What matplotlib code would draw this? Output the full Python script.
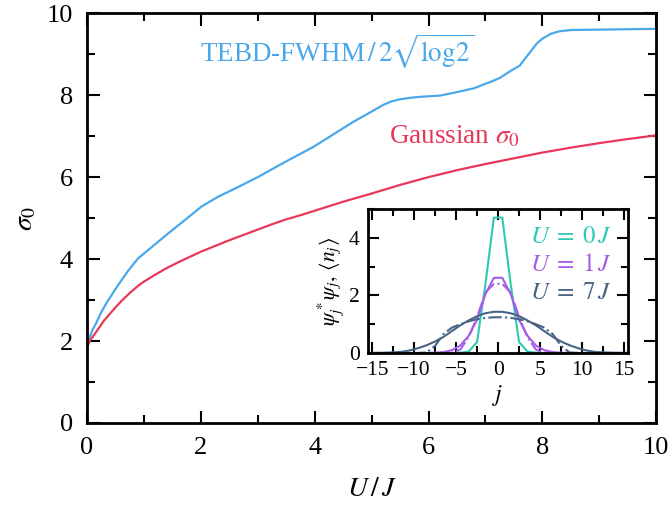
import numpy as np
import matplotlib
matplotlib.use("Agg")
import matplotlib.pyplot as plt
from matplotlib.ticker import MultipleLocator

plt.rcParams['font.family'] = ['Liberation Serif', 'DejaVu Serif']
plt.rcParams['mathtext.fontset'] = 'stix'

# sigma_0 versus U/J
u_tebd = [0, 0.05, 0.1, 0.16, 0.25, 0.34, 0.45, 0.55, 0.7, 0.8, 0.9, 1.1, 1.43,
          1.7, 2.01, 2.3, 2.6, 3.0, 3.48, 3.98, 4.3, 4.68, 5.0, 5.2, 5.35, 5.5,
          5.7, 5.85, 6.2, 6.45, 6.8, 7.0, 7.1, 7.25, 7.45, 7.6, 7.7, 7.8, 7.9,
          8.0, 8.15, 8.3, 8.5, 9.0, 10.0]
sigma_tebd = [1.85, 2.10, 2.28, 2.43, 2.70, 2.92, 3.16, 3.37, 3.67, 3.85, 4.02,
              4.25, 4.63, 4.93, 5.28, 5.52, 5.72, 6.00, 6.37, 6.74, 7.02, 7.35,
              7.60, 7.76, 7.85, 7.90, 7.94, 7.96, 7.99, 8.06, 8.17, 8.28, 8.33,
              8.42, 8.60, 8.72, 8.90, 9.08, 9.26, 9.38, 9.50, 9.56, 9.59, 9.60,
              9.62]

u_gauss = [0, 0.05, 0.1, 0.15, 0.2, 0.3, 0.4, 0.5, 0.6, 0.75, 0.9, 1.0, 1.2, 1.4,
           1.6, 1.8, 2.0, 2.25, 2.5, 2.75, 3.0, 3.25, 3.5, 3.75, 4.0, 4.5, 5.0,
           5.5, 6.0, 6.5, 7.0, 7.5, 8.0, 8.5, 9.0, 9.5, 10.0]
sigma_gauss = [1.85, 2.00, 2.10, 2.20, 2.30, 2.50, 2.66, 2.82, 2.97, 3.17, 3.35,
               3.45, 3.62, 3.78, 3.92, 4.05, 4.18, 4.32, 4.46, 4.59, 4.72, 4.85,
               4.97, 5.07, 5.18, 5.40, 5.60, 5.81, 6.00, 6.17, 6.32, 6.46, 6.60,
               6.72, 6.83, 6.93, 7.02]

# density profiles on the lattice (half-integer sites)
sites = np.arange(-15.5, 16.0, 1.0)
n_u0 = [0, 0, 0, 0, 0, 0, 0, 0, 0, 0, 0, 0.01, 0.05, 0.38, 2.40, 4.70,
        4.70, 2.40, 0.38, 0.05, 0.01, 0, 0, 0, 0, 0, 0, 0, 0, 0, 0, 0]
n_u1 = [0, 0, 0, 0, 0, 0, 0, 0, 0.01, 0.03, 0.10, 0.26, 0.60, 1.15, 2.05, 2.61,
        2.61, 2.05, 1.15, 0.60, 0.26, 0.10, 0.03, 0.01, 0, 0, 0, 0, 0, 0, 0, 0]
psi_u1 = [0, 0, 0, 0, 0, 0, 0, 0, 0, 0, 0.01, 0.12, 0.55, 1.25, 2.10, 2.40,
          2.40, 2.10, 1.25, 0.55, 0.12, 0.01, 0, 0, 0, 0, 0, 0, 0, 0, 0, 0]
n_u7 = [0, 0, 0.01, 0.02, 0.04, 0.09, 0.17, 0.27, 0.40, 0.56, 0.76, 0.96, 1.13,
        1.28, 1.38, 1.43, 1.43, 1.38, 1.28, 1.13, 0.96, 0.76, 0.56, 0.40, 0.27,
        0.17, 0.09, 0.04, 0.02, 0.01, 0, 0]
psi_u7 = [0, 0, 0, 0, 0, 0, 0, 0.02, 0.25, 0.66, 0.88, 1.00, 1.10, 1.17, 1.22,
          1.24, 1.24, 1.22, 1.17, 1.10, 1.00, 0.88, 0.66, 0.25, 0.02, 0, 0, 0, 0,
          0, 0, 0]

c_tebd = '#4aa8ea'
c_gauss = '#e8385a'
c_u0 = '#2ec9b2'
c_u1 = '#a45ee8'
c_u7 = '#4a6483'

fig = plt.figure(figsize=(6.69, 5.09), dpi=100)
ax = fig.add_axes([0.130, 0.169, 0.851, 0.805])

ax.plot(u_tebd, sigma_tebd, color=c_tebd, lw=1.6)
ax.plot(u_gauss, sigma_gauss, color=c_gauss, lw=1.6)

ax.text(1.99, 8.80, r'TEBD-FWHM$\,/\,2\sqrt{\mathrm{log2}}$', color=c_tebd,
        fontsize=19.5, va='baseline')
ax.text(5.30, 6.82, r'Gaussian $\sigma_0$', color=c_gauss, fontsize=19.5,
        va='baseline')

ax.set_xlim(0, 10)
ax.set_ylim(0, 10)
ax.xaxis.set_major_locator(MultipleLocator(2))
ax.xaxis.set_minor_locator(MultipleLocator(1))
ax.yaxis.set_major_locator(MultipleLocator(2))
ax.yaxis.set_minor_locator(MultipleLocator(1))
ax.tick_params(which='both', direction='in', top=True, right=True, width=1.5,
               labelsize=19)
ax.tick_params(which='major', length=9, pad=10)
ax.tick_params(which='minor', length=6)
for s in ax.spines.values():
    s.set_linewidth(2)
ax.set_xlabel(r'$U\,/\,J$', fontsize=20, labelpad=13)
ax.set_ylabel(r'$\sigma_0$', fontsize=20, labelpad=6)

# inset with the density profiles
axi = fig.add_axes([0.550, 0.3065, 0.389, 0.283])
axi.plot(sites, n_u0, color=c_u0, lw=1.5)
axi.plot(sites, n_u1, color=c_u1, lw=1.5)
axi.plot(sites, psi_u1, color=c_u1, lw=1.5, ls='-.')
axi.plot(sites, n_u7, color=c_u7, lw=1.5)
axi.plot(sites, psi_u7, color=c_u7, lw=1.5, ls='-.')

axi.text(0.94, 0.805, r'$U\;=\;0\,J$', color=c_u0, fontsize=18,
         transform=axi.transAxes, ha='right', va='center')
axi.text(0.94, 0.611, r'$U\;=\;1\,J$', color=c_u1, fontsize=18,
         transform=axi.transAxes, ha='right', va='center')
axi.text(0.94, 0.417, r'$U\;=\;7\,J$', color=c_u7, fontsize=18,
         transform=axi.transAxes, ha='right', va='center')

axi.set_xlim(-15.5, 15.5)
axi.set_ylim(0, 5)
axi.xaxis.set_major_locator(MultipleLocator(5))
axi.xaxis.set_minor_locator(MultipleLocator(2.5))
axi.yaxis.set_major_locator(MultipleLocator(2))
axi.yaxis.set_minor_locator(MultipleLocator(1))
axi.tick_params(which='both', direction='in', top=True, right=True, width=1.5,
                labelsize=15.5)
axi.tick_params(which='major', length=8, pad=6)
axi.tick_params(which='minor', length=5)
for s in axi.spines.values():
    s.set_linewidth(2)
axi.set_xlabel(r'$j$', fontsize=17, labelpad=2)
axi.set_ylabel(r'$\psi_j^*\psi_j,\,\langle n_j\rangle$', fontsize=15.5,
               labelpad=2)

fig.savefig('out.png', dpi=100)
